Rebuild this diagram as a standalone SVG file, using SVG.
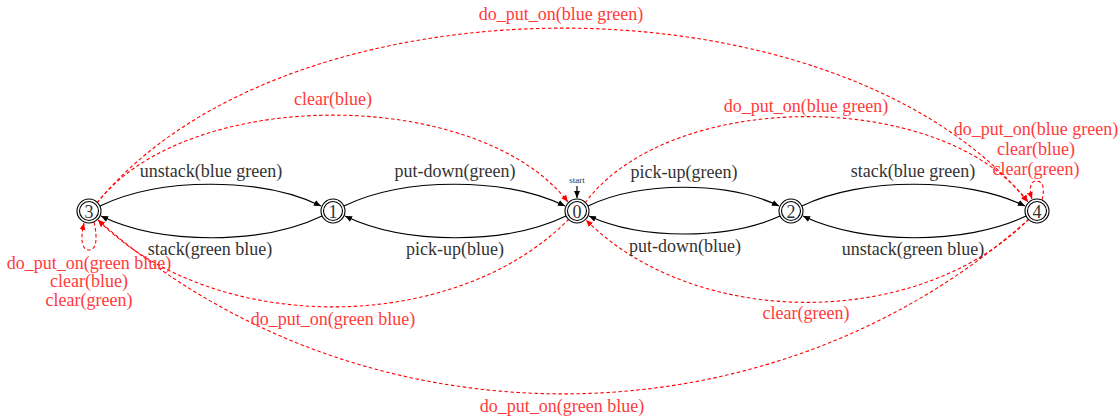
<svg xmlns="http://www.w3.org/2000/svg" width="1120" height="420" viewBox="0 0 1120 420">
<style>
.lbl{font-family:"Liberation Serif","Times New Roman",serif;font-size:18px;text-anchor:middle;fill:#333}
.rl{fill:#ff3b3b}
.nt{font-family:"Liberation Serif","Times New Roman",serif;font-size:18px;text-anchor:middle;fill:#333}
.e{fill:none;stroke:#000;stroke-width:1.2}
.r{fill:none;stroke:#ff0000;stroke-width:1.1;stroke-dasharray:3.5 2.5}
.oc{fill:#fff;stroke:#000;stroke-width:1.1}
.ic{fill:none;stroke:#000;stroke-width:1.1}
</style>
<defs>
<marker id="ab" markerUnits="userSpaceOnUse" markerWidth="8" markerHeight="7" refX="7" refY="3" orient="auto"><path d="M0,0 L7,3 L0,6 z" fill="#000"/></marker>
<marker id="ar" markerUnits="userSpaceOnUse" markerWidth="8" markerHeight="7" refX="7" refY="3" orient="auto"><path d="M0,0 L7,3 L0,6 z" fill="#ff0000"/></marker>
</defs>
<rect width="1120" height="420" fill="#fff"/>
<g id="connectors">
<path class="e" d="M100,206 C160,177 261,177 321,206" marker-end="url(#ab)"/>
<path class="e" d="M344,206 C404,177 505,177 565,206" marker-end="url(#ab)"/>
<path class="e" d="M588,206 C640,181 727,181 779,206" marker-end="url(#ab)"/>
<path class="e" d="M802,206 C862,177 965,177 1025,206" marker-end="url(#ab)"/>
<path class="e" d="M322,216 C262,245 161,245 101,216" marker-end="url(#ab)"/>
<path class="e" d="M566,216 C506,245 405,245 345,216" marker-end="url(#ab)"/>
<path class="e" d="M780,216 C728,240 641,240 589,216" marker-end="url(#ab)"/>
<path class="e" d="M1026,216 C966,245 863,245 803,216" marker-end="url(#ab)"/>
<path class="e" d="M577,186 L577,198" marker-end="url(#ab)"/>
<path class="r" d="M97,203 C287,-30 838,-30 1028,202" marker-end="url(#ar)"/>
<path class="r" d="M97,203 C187,86 478,86 568,202" marker-end="url(#ar)"/>
<path class="r" d="M585,203 C670,88 943,88 1028,202" marker-end="url(#ar)"/>
<path class="r" d="M569,219 C454,336 213,336 98,220" marker-end="url(#ar)"/>
<path class="r" d="M1029,219 C919,330 696,330 586,220" marker-end="url(#ar)"/>
<path class="r" d="M1029,219 C769,452 358,452 98,220" marker-end="url(#ar)"/>
<path class="r" d="M94,222 C98,240 96,250 89,250 C82,250 80,240 84,223" marker-end="url(#ar)"/>
<path class="r" d="M1042,200 C1045,188 1043,181 1036,181 C1030,181 1029,190 1032,199" marker-end="url(#ar)"/>
</g>
<g id="labels">
<text class="lbl" x="211" y="177">unstack(blue green)</text>
<text class="lbl" x="455" y="177">put-down(green)</text>
<text class="lbl" x="684" y="178">pick-up(green)</text>
<text class="lbl" x="913" y="177">stack(blue green)</text>
<text class="lbl" x="210" y="255">stack(green blue)</text>
<text class="lbl" x="455" y="255">pick-up(blue)</text>
<text class="lbl" x="685" y="252">put-down(blue)</text>
<text class="lbl" x="913" y="255">unstack(green blue)</text>
<text class="lbl rl" x="561" y="20">do_put_on(blue green)</text>
<text class="lbl rl" x="333" y="105">clear(blue)</text>
<text class="lbl rl" x="806" y="112">do_put_on(blue green)</text>
<text class="lbl rl" x="1036" y="135">do_put_on(blue green)</text>
<text class="lbl rl" x="1036" y="154.5">clear(blue)</text>
<text class="lbl rl" x="1036" y="174.5">clear(green)</text>
<text class="lbl rl" x="89" y="268.5">do_put_on(green blue)</text>
<text class="lbl rl" x="89" y="287">clear(blue)</text>
<text class="lbl rl" x="89" y="306">clear(green)</text>
<text class="lbl rl" x="333" y="325">do_put_on(green blue)</text>
<text class="lbl rl" x="806" y="319">clear(green)</text>
<text class="lbl rl" x="562" y="412">do_put_on(green blue)</text>
<text x="577" y="183" style="font-family:'Liberation Serif',serif;font-size:9px;text-anchor:middle;fill:#333">start</text>
</g>
<g id="node3"><circle class="oc" cx="89" cy="211" r="12"/><circle class="ic" cx="89" cy="211" r="9.5"/><text class="nt" x="89" y="217.5">3</text></g>
<g id="node1"><circle class="oc" cx="333" cy="211" r="12"/><circle class="ic" cx="333" cy="211" r="9.5"/><text class="nt" x="333" y="217.5">1</text></g>
<g id="node0"><circle class="oc" cx="577" cy="211" r="12"/><circle class="ic" cx="577" cy="211" r="9.5"/><text class="nt" x="577" y="217.5">0</text></g>
<g id="node2"><circle class="oc" cx="791" cy="211" r="12"/><circle class="ic" cx="791" cy="211" r="9.5"/><text class="nt" x="791" y="217.5">2</text></g>
<g id="node4"><circle class="oc" cx="1037" cy="211" r="12"/><circle class="ic" cx="1037" cy="211" r="9.5"/><text class="nt" x="1037" y="217.5">4</text></g>
</svg>
